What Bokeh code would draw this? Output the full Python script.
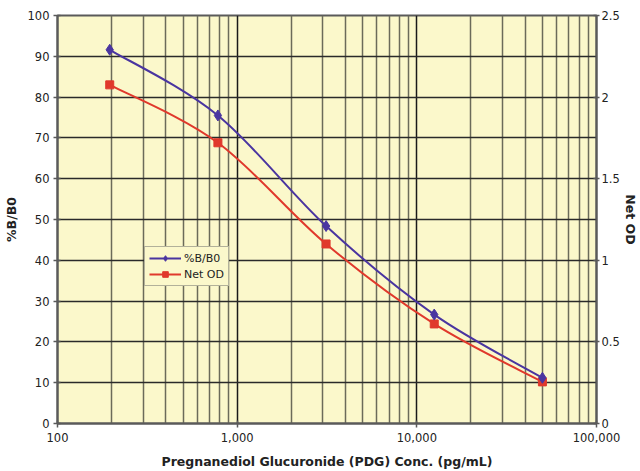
from bokeh.plotting import figure
from bokeh.models import (Range1d, LinearAxis, FixedTicker, Legend, LegendItem,
                          ColumnDataSource, CustomJSTickFormatter)
from bokeh.embed import file_html
from bokeh.resources import INLINE
import numpy as np

# ---- data ----
conc = [195.3, 781.25, 3125, 12500, 50000]
b_b0 = [91.6, 75.5, 48.4, 26.7, 11.2]
net_od = [2.075, 1.72, 1.10, 0.61, 0.255]

x_ticks = [100, 1000, 10000, 100000]
x_tick_labels = ["100", "1,000", "10,000", "100,000"]
left_ticks = [0, 10, 20, 30, 40, 50, 60, 70, 80, 90, 100]
right_ticks = [0, 0.5, 1, 1.5, 2, 2.5]

BLUE = "#4a35a0"
RED = "#e0392c"
BG = "#fbf8cb"
FONT = "DejaVu Sans"

p = figure(width=640, height=471, x_axis_type="log",
           x_range=Range1d(100, 100000), y_range=Range1d(0, 100),
           output_backend="svg", toolbar_location=None,
           min_border_left=56, min_border_right=40,
           min_border_top=15, min_border_bottom=46)
p.extra_y_ranges = {"od": Range1d(0, 2.5)}
p.background_fill_color = BG
p.border_fill_color = "white"
p.outline_line_color = "#5a5a5a"
p.outline_line_width = 2

minor = [m * d for d in (100, 1000, 10000) for m in range(2, 10)]
xt = FixedTicker(ticks=x_ticks, minor_ticks=minor)
p.xaxis.ticker = xt
p.xaxis.formatter = CustomJSTickFormatter(args=dict(t=x_ticks, l=x_tick_labels), code="""
    for (let i = 0; i < t.length; i++) { if (Math.abs(tick - t[i]) < 1e-6 * t[i]) return l[i]; }
    return "";
""")
p.yaxis.ticker = FixedTicker(ticks=left_ticks)

p.xgrid.ticker = xt
p.xgrid.grid_line_color = "#1a1a1a"
p.xgrid.grid_line_width = 1.5
p.xgrid.minor_grid_line_color = "#6b6b5a"
p.xgrid.minor_grid_line_width = 1.5
p.ygrid.grid_line_color = "#2a2a2a"
p.ygrid.grid_line_width = 1.5

right = LinearAxis(y_range_name="od", ticker=FixedTicker(ticks=right_ticks),
                   axis_label="Net OD")
p.add_layout(right, "right")

for ax in [p.xaxis[0], p.yaxis[0], right]:
    ax.major_label_text_font = FONT
    ax.major_label_text_font_size = "11.5px"
    ax.major_label_text_color = "#222222"
    ax.axis_label_text_font = FONT
    ax.axis_label_text_font_style = "bold"
    ax.axis_label_text_font_size = "12.5px"
    ax.axis_label_text_color = "#222222"
    ax.axis_line_color = "#5a5a5a"
    ax.axis_line_width = 2
    ax.major_tick_line_color = "#5a5a5a"
    ax.major_tick_line_width = 1.5
    ax.major_tick_in = 3
    ax.major_tick_out = 4
    ax.minor_tick_line_color = None
    ax.major_label_standoff = 4
    ax.axis_label_standoff = 6

right.major_label_standoff = 2
right.axis_label_standoff = 0
right.major_tick_out = 3

p.xaxis.axis_label = "Pregnanediol Glucuronide (PDG) Conc. (pg/mL)"
p.yaxis[0].axis_label = "%B/B0"
p.xaxis.major_label_standoff = 5
p.xaxis.axis_label_standoff = 9


def smooth(xs, ys):
    lx = np.log10(np.array(xs, dtype=float))
    y = np.array(ys, dtype=float)
    n = len(lx)
    P = np.column_stack([lx, y])
    Pe = np.vstack([P[0], P, P[-1]])
    x0, y0, x1, y1, cx0, cy0, cx1, cy1 = ([] for _ in range(8))
    for i in range(n - 1):
        a, b, c, d = Pe[i], Pe[i + 1], Pe[i + 2], Pe[i + 3]
        c1 = b + (c - a) / 6.0
        c2 = c - (d - b) / 6.0
        x0.append(10 ** b[0]); y0.append(b[1])
        x1.append(10 ** c[0]); y1.append(c[1])
        cx0.append(10 ** c1[0]); cy0.append(c1[1])
        cx1.append(10 ** c2[0]); cy1.append(c2[1])
    return ColumnDataSource(dict(x0=x0, y0=y0, x1=x1, y1=y1,
                                 cx0=cx0, cy0=cy0, cx1=cx1, cy1=cy1))


br = p.bezier(x0="x0", y0="y0", x1="x1", y1="y1", cx0="cx0", cy0="cy0",
              cx1="cx1", cy1="cy1", source=smooth(conc, net_od),
              line_color=RED, line_width=2, y_range_name="od")
bb = p.bezier(x0="x0", y0="y0", x1="x1", y1="y1", cx0="cx0", cy0="cy0",
              cx1="cx1", cy1="cy1", source=smooth(conc, b_b0),
              line_color=BLUE, line_width=2)

sr = p.scatter(conc, net_od, marker="square", size=8, fill_color=RED,
               line_color=RED, y_range_name="od")
sb = p.scatter(conc, b_b0, marker="diamond", size=11, fill_color=BLUE,
               line_color=BLUE)

legend = Legend(items=[LegendItem(label="%B/B0", renderers=[bb, sb]),
                       LegendItem(label="Net OD", renderers=[br, sr])],
                location=(87, 137))
legend.label_text_font = FONT
legend.label_text_font_size = "11px"
legend.label_text_color = "#222222"
legend.glyph_width = 32
legend.glyph_height = 14
legend.label_height = 14
legend.spacing = 2
legend.padding = 4
legend.margin = 0
legend.label_standoff = 3
legend.background_fill_color = BG
legend.background_fill_alpha = 1
legend.border_line_color = "#6a6a6a"
legend.border_line_width = 1.5
p.add_layout(legend, "center")

open("out.html", "w").write(file_html(p, INLINE))
